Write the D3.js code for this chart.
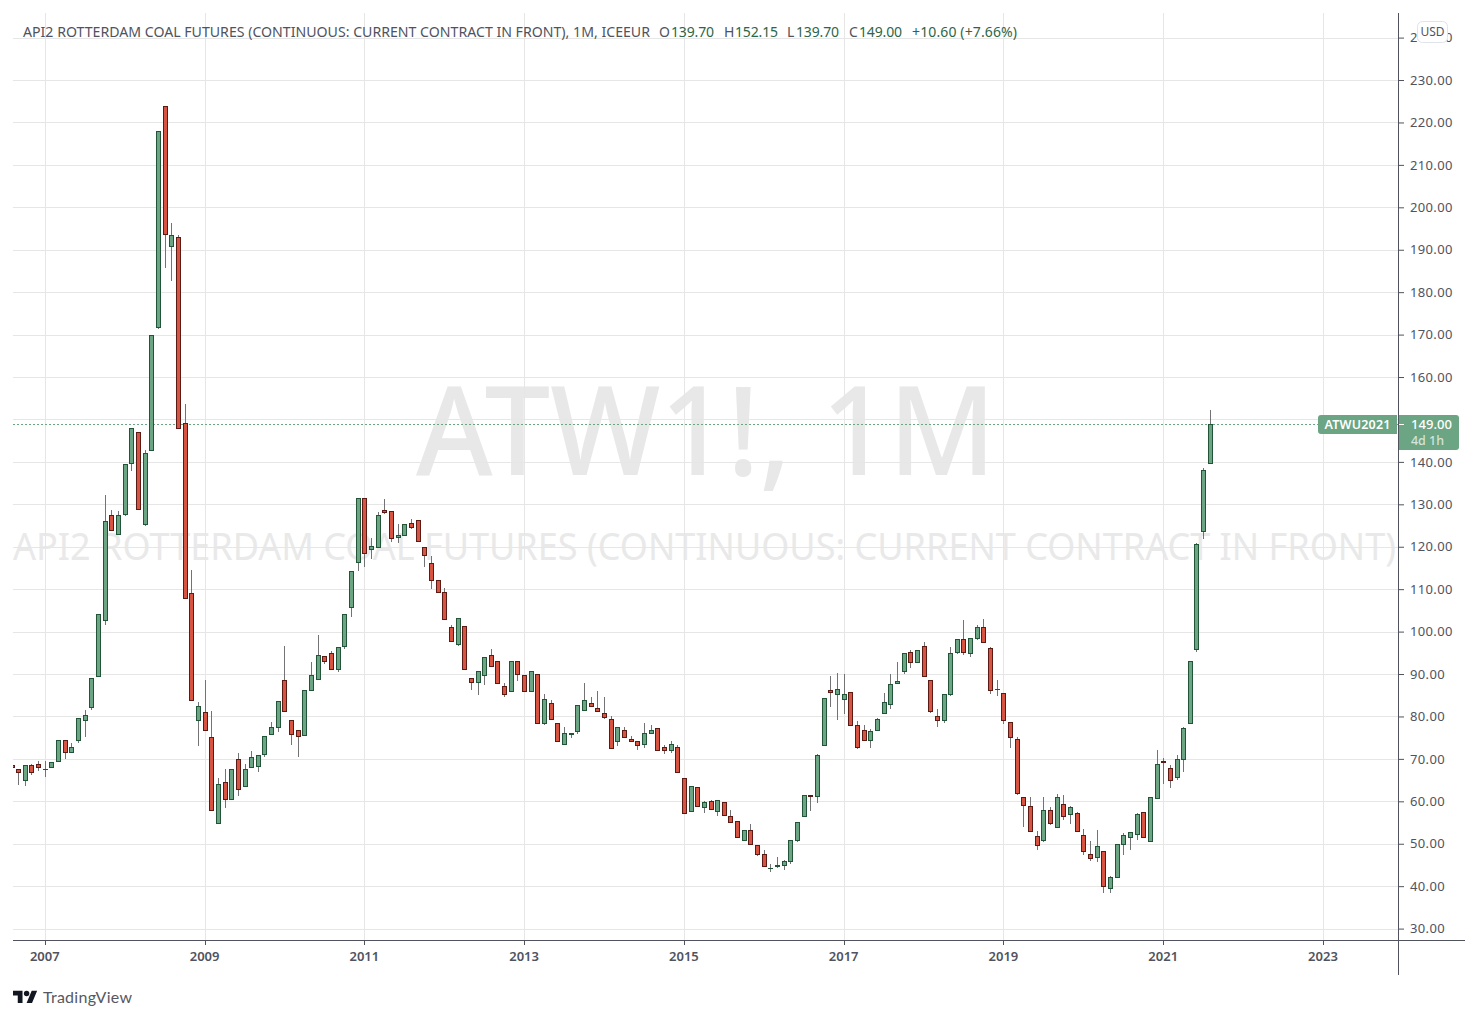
<!DOCTYPE html>
<html>
	<head>
		<title>API2 Rotterdam coal futures</title>
		<style>
* {
	margin: 0;
	padding: 0;
}
html,
body {
	background-color: #fff;
	width: 100%;
	height: 100%;
	overflow: hidden;
}
svg {
	display: block;
}
text {
	font-family: "Noto Sans", sans-serif;
}
		</style>
	</head>
	<body>
		<div id="chart"></div>
		<script src="https://cdn.jsdelivr.net/npm/d3@7"></script>
		<script>

// monthly candles, Aug 2006 to Aug 2021, one line per calendar year
var opens = [
	68.5, 67.6, 65.0, 68.6, 68.8,
	67.6, 68.0, 69.5, 74.5, 71.6, 74.4, 79.1, 82.2, 89.5, 102.7, 127.5, 122.9,
	127.6, 139.8, 147.0, 125.4, 142.9, 171.7, 223.8, 190.8, 192.9, 149.1, 109.1, 79.2,
	81.1, 75.2, 54.9, 64.6, 60.6, 70.0, 63.6, 68.1, 68.4, 71.2, 75.9, 77.5,
	88.6, 79.2, 76.8, 75.7, 86.3, 88.9, 94.3, 95.0, 91.2, 96.6, 105.8, 116.4,
	131.5, 119.5, 120.0, 128.6, 128.4, 122.3, 122.8, 125.6, 126.3, 120.0, 116.2, 112.2,
	109.4, 101.1, 97.1, 101.3, 89.1, 88.2, 89.8, 94.6, 93.0, 87.1, 85.9, 93.0,
	89.7, 86.1, 89.9, 78.4, 83.1, 78.4, 73.6, 75.9, 76.5, 81.6, 83.1, 82.1,
	80.7, 79.5, 74.3, 76.9, 74.8, 74.3, 73.4, 76.2, 77.2, 72.7, 72.0, 72.9,
	65.4, 57.6, 63.3, 58.6, 60.0, 57.6, 59.8, 56.5, 55.3, 51.0, 53.2, 49.6,
	47.7, 44.2, 44.7, 44.9, 45.9, 50.8, 56.5, 61.6, 61.2, 73.2, 86.2, 85.2,
	84.0, 85.7, 78.1, 76.7, 74.4, 76.7, 80.7, 82.9, 87.8, 90.6, 95.1, 92.8,
	96.5, 88.5, 80.0, 79.1, 85.2, 95.1, 98.2, 94.9, 98.6, 101.0, 96.1, 86.4,
	85.5, 78.6, 74.8, 60.9, 58.8, 51.8, 50.8, 57.9, 53.9, 59.3, 56.9, 57.2,
	52.0, 47.7, 46.8, 48.2, 39.5, 42.1, 49.9, 51.6, 52.4, 57.5, 50.7, 60.8,
	69.6, 67.9, 65.8, 70.0, 78.5, 96.0, 123.8, 139.7
];
var highs = [
	68.5, 67.6, 68.6, 68.9, 69.4,
	69.6, 69.3, 74.5, 74.5, 73.8, 79.7, 81.5, 89.1, 104.2, 132.1, 128.7, 128.4,
	139.4, 147.9, 147.0, 142.8, 169.8, 217.9, 223.8, 196.2, 193.4, 153.6, 114.6, 83.4,
	88.7, 81.2, 65.4, 67.5, 67.6, 71.4, 68.8, 71.9, 70.9, 75.4, 78.7, 83.7,
	96.7, 79.2, 76.8, 86.3, 92.9, 99.1, 94.3, 95.5, 96.4, 104.2, 114.3, 131.5,
	131.5, 122.1, 128.2, 131.3, 128.4, 125.4, 125.4, 126.6, 126.3, 120.0, 117.9, 112.2,
	110.3, 101.6, 103.2, 101.3, 89.1, 90.6, 94.1, 95.8, 93.0, 88.0, 93.0, 93.0,
	89.7, 90.6, 89.9, 85.2, 83.8, 78.4, 77.6, 76.2, 82.6, 87.8, 84.5, 85.9,
	84.5, 80.0, 77.4, 77.5, 75.4, 74.3, 78.4, 78.1, 77.2, 73.2, 74.1, 73.2,
	65.4, 63.5, 63.3, 60.0, 60.2, 60.2, 59.8, 57.9, 55.3, 53.2, 54.7, 49.6,
	48.5, 45.2, 46.9, 46.1, 51.0, 55.1, 61.6, 61.6, 71.2, 84.3, 89.5, 90.2,
	90.0, 85.7, 78.9, 78.0, 77.0, 79.6, 85.5, 90.0, 92.8, 94.9, 95.7, 95.6,
	97.5, 88.5, 81.8, 85.2, 96.4, 98.2, 102.7, 98.6, 101.6, 103.0, 96.3, 88.6,
	85.5, 78.6, 75.2, 60.9, 61.0, 53.0, 61.0, 58.7, 61.7, 61.5, 58.9, 57.5,
	53.5, 50.7, 53.2, 48.2, 42.3, 50.0, 52.5, 52.8, 57.3, 57.5, 61.1, 72.0,
	70.3, 68.6, 71.0, 77.5, 93.1, 121.0, 138.6, 152.15
];
var lows = [
	68.2, 63.8, 63.6, 66.2, 67.1,
	65.7, 68.0, 69.5, 69.9, 71.6, 73.7, 75.1, 81.5, 89.5, 101.5, 123.9, 122.9,
	127.3, 137.8, 129.0, 124.9, 142.9, 171.4, 185.8, 182.7, 147.9, 107.9, 83.9, 73.0,
	76.8, 58.0, 54.6, 58.4, 60.4, 61.2, 63.6, 68.1, 66.9, 70.4, 75.6, 76.3,
	81.3, 73.2, 70.4, 75.7, 86.3, 88.9, 92.3, 91.2, 90.4, 95.8, 103.4, 114.2,
	115.2, 117.2, 119.8, 127.7, 121.1, 120.8, 122.8, 124.2, 121.4, 115.3, 110.0, 109.4,
	103.0, 97.8, 96.6, 91.2, 86.3, 85.1, 87.5, 91.8, 87.8, 84.6, 85.9, 88.4,
	85.9, 86.1, 78.4, 78.0, 79.5, 74.1, 73.3, 75.0, 75.9, 81.6, 82.4, 81.4,
	79.5, 72.5, 73.1, 75.1, 74.3, 72.1, 72.5, 76.2, 71.9, 71.2, 71.3, 66.8,
	57.2, 57.6, 58.8, 57.3, 58.1, 56.6, 56.7, 55.1, 51.5, 51.0, 49.9, 47.0,
	44.7, 43.4, 44.4, 43.8, 45.3, 50.3, 56.2, 57.6, 59.5, 73.2, 82.3, 79.2,
	80.6, 77.9, 72.3, 74.4, 72.6, 76.7, 80.7, 81.8, 87.8, 89.9, 91.5, 92.8,
	89.5, 80.9, 77.6, 78.5, 84.9, 94.8, 94.4, 93.9, 98.1, 97.5, 85.4, 84.9,
	78.3, 72.6, 61.6, 54.0, 52.7, 48.6, 50.3, 54.5, 53.6, 55.7, 54.7, 52.7,
	47.4, 46.0, 45.8, 38.4, 38.4, 42.1, 47.4, 48.5, 50.9, 51.6, 50.7, 60.8,
	64.1, 63.2, 65.1, 66.9, 78.2, 95.2, 121.8, 139.7
];
var closes = [
	68.2, 66.9, 68.6, 66.9, 68.0,
	67.7, 69.3, 74.5, 71.6, 72.8, 79.7, 80.4, 89.1, 104.2, 126.1, 123.9, 127.5,
	139.4, 147.9, 129.0, 142.0, 169.8, 217.9, 193.6, 193.4, 147.9, 107.9, 83.9, 82.5,
	76.8, 58.0, 64.1, 60.6, 67.6, 62.9, 67.6, 70.5, 70.9, 75.4, 77.5, 83.7,
	81.3, 75.9, 75.4, 86.3, 89.8, 94.5, 93.1, 91.2, 96.4, 104.2, 114.3, 131.5,
	118.5, 120.2, 127.5, 128.3, 122.1, 122.8, 125.4, 124.7, 121.4, 118.1, 112.2, 109.4,
	103.0, 97.8, 103.2, 91.2, 88.2, 90.6, 94.1, 91.8, 87.8, 85.4, 93.0, 89.9,
	85.9, 90.6, 78.4, 84.0, 79.5, 74.1, 76.2, 76.2, 82.6, 83.8, 82.4, 81.4,
	79.8, 72.5, 77.4, 75.1, 74.3, 73.2, 76.2, 76.7, 72.2, 72.0, 73.6, 66.8,
	57.2, 63.5, 58.8, 59.8, 58.1, 60.2, 56.7, 55.1, 51.5, 53.2, 49.9, 47.5,
	44.7, 44.3, 44.9, 45.9, 51.0, 55.1, 61.6, 61.2, 70.8, 84.3, 85.7, 86.4,
	85.2, 77.9, 72.7, 74.4, 76.5, 79.3, 83.3, 87.6, 88.3, 94.9, 92.8, 95.6,
	89.5, 81.4, 79.1, 85.2, 94.9, 98.2, 95.1, 98.6, 101.0, 97.5, 86.2, 86.5,
	79.1, 75.1, 61.9, 59.1, 52.9, 49.6, 57.9, 54.8, 60.9, 56.5, 58.6, 52.9,
	48.2, 46.6, 49.4, 40.0, 42.1, 49.9, 52.0, 52.8, 57.1, 51.6, 61.1, 68.9,
	69.3, 65.1, 70.0, 77.3, 93.1, 120.7, 138.1, 149.0
];

var firstMonth = new Date( 2006, 7, 1 );
var yearTicks = [ 2007, 2009, 2011, 2013, 2015, 2017, 2019, 2021, 2023 ];
var priceTicks = [ 30, 40, 50, 60, 70, 80, 90, 100, 110, 120, 130, 140, 150, 160, 170, 180, 190, 200, 210, 220, 230, 240 ];

var symbolName = 'API2 ROTTERDAM COAL FUTURES (CONTINUOUS: CURRENT CONTRACT IN FRONT)';
var legendTitle = symbolName + ', 1M, ICEEUR';
var legendLetters = [ 'O', 'H', 'L', 'C' ];
var legendValues = [ '139.70', '152.15', '139.70', '149.00' ];
var legendChange = '+10.60 (+7.66%)';

var width = 1478;
var height = 1019;
var paneLeft = 13;
var paneTop = 13;
var paneRight = 1398;
var paneBottom = 940;

var green = '#6ba583';
var greenDark = '#225437';
var red = '#d75442';
var redDark = '#5b1a13';
var wickColor = '#737375';
var gridColor = '#e6e6e6';
var axisColor = '#50535e';
var labelColor = '#50535e';

var candles = opens.map( function ( d, i ) {
	return { i: i, open: d, high: highs[i], low: lows[i], close: closes[i] };
} );

// months sit evenly spaced, so the scale runs on the candle index
function monthIndex( year ) {
	return ( year - firstMonth.getFullYear() ) * 12 - firstMonth.getMonth();
}

var x = d3.scaleLinear()
	.domain( [ monthIndex( 2007 ), monthIndex( 2021 ) + 7 ] )
	.range( [ 45.3, 1210.3 ] );
var y = d3.scaleLinear()
	.domain( [ 30, 240 ] )
	.range( [ 928.6, 37.6 ] );

var svg = d3.select( '#chart' ).append( 'svg' )
	.attr( 'width', width )
	.attr( 'height', height );

svg.append( 'defs' ).append( 'clipPath' )
	.attr( 'id', 'pane' )
	.append( 'rect' )
	.attr( 'x', paneLeft )
	.attr( 'y', paneTop )
	.attr( 'width', paneRight - paneLeft )
	.attr( 'height', paneBottom - paneTop );

var pane = svg.append( 'g' ).attr( 'clip-path', 'url(#pane)' );

// watermark
pane.append( 'text' )
	.attr( 'x', 706 )
	.attr( 'y', 475 )
	.attr( 'text-anchor', 'middle' )
	.attr( 'textLength', 580 )
	.attr( 'lengthAdjust', 'spacingAndGlyphs' )
	.style( 'font-size', '123px' )
	.style( 'font-weight', 500 )
	.style( 'fill', '#e8e8e9' )
	.text( 'ATW1!, 1M' );
pane.append( 'text' )
	.attr( 'x', 13 )
	.attr( 'y', 560 )
	.attr( 'textLength', 1383 )
	.attr( 'lengthAdjust', 'spacingAndGlyphs' )
	.style( 'font-size', '38px' )
	.style( 'fill', '#e9e9ea' )
	.text( symbolName );

// grid
pane.selectAll( '.hgrid' )
	.data( priceTicks )
	.enter()
	.append( 'line' )
	.attr( 'x1', paneLeft )
	.attr( 'x2', paneRight )
	.attr( 'y1', function ( d ) { return Math.round( y( d ) ) + 0.5; } )
	.attr( 'y2', function ( d ) { return Math.round( y( d ) ) + 0.5; } )
	.style( 'stroke', gridColor );
pane.selectAll( '.vgrid' )
	.data( yearTicks )
	.enter()
	.append( 'line' )
	.attr( 'x1', function ( d ) { return Math.floor( x( monthIndex( d ) ) ) + 0.5; } )
	.attr( 'x2', function ( d ) { return Math.floor( x( monthIndex( d ) ) ) + 0.5; } )
	.attr( 'y1', paneTop )
	.attr( 'y2', paneBottom )
	.style( 'stroke', gridColor );

// last price line
var lastClose = closes[closes.length - 1];
pane.append( 'line' )
	.attr( 'x1', paneLeft )
	.attr( 'x2', paneRight )
	.attr( 'y1', Math.round( y( lastClose ) ) + 0.5 )
	.attr( 'y2', Math.round( y( lastClose ) ) + 0.5 )
	.style( 'stroke', green )
	.style( 'stroke-dasharray', '2 2' );

// candles
var candle = pane.selectAll( '.candle' )
	.data( candles )
	.enter()
	.append( 'g' );

function isUp( d ) {
	return d.close >= d.open;
}
function bodyTop( d ) {
	return Math.round( y( Math.max( d.open, d.close ) ) );
}
function bodyBottom( d ) {
	return Math.round( y( Math.min( d.open, d.close ) ) );
}
function centre( d ) {
	return Math.floor( x( d.i ) );
}

candle.append( 'rect' )
	.attr( 'x', centre )
	.attr( 'width', 1 )
	.attr( 'y', function ( d ) { return Math.round( y( d.high ) ); } )
	.attr( 'height', function ( d ) { return Math.round( y( d.low ) ) - Math.round( y( d.high ) ); } )
	.style( 'fill', wickColor );
candle.append( 'rect' )
	.attr( 'x', function ( d ) { return centre( d ) - 2; } )
	.attr( 'width', 5 )
	.attr( 'y', bodyTop )
	.attr( 'height', function ( d ) { return bodyBottom( d ) - bodyTop( d ) + 1; } )
	.style( 'fill', function ( d ) { return isUp( d ) ? greenDark : redDark; } );
candle.append( 'rect' )
	.attr( 'x', function ( d ) { return centre( d ) - 1; } )
	.attr( 'width', 3 )
	.attr( 'y', function ( d ) { return bodyTop( d ) + 1; } )
	.attr( 'height', function ( d ) { return Math.max( 0, bodyBottom( d ) - bodyTop( d ) - 1 ); } )
	.style( 'fill', function ( d ) { return isUp( d ) ? green : red; } );

// axes
var timeAxis = d3.axisBottom( x )
	.tickValues( yearTicks.map( monthIndex ) )
	.tickSize( 5 )
	.tickPadding( 7 )
	.tickFormat( function ( d, i ) { return yearTicks[i]; } );
var priceAxis = d3.axisRight( y )
	.tickValues( priceTicks )
	.tickSize( 6 )
	.tickPadding( 6 )
	.tickFormat( d3.format( '.2f' ) );

var timeG = svg.append( 'g' )
	.attr( 'transform', 'translate(0,' + paneBottom + ')' )
	.call( timeAxis );
timeG.select( '.domain' ).remove();
timeG.selectAll( 'line' )
	.style( 'stroke', axisColor )
	.attr( 'transform', function ( d ) {
		return 'translate(' + ( Math.floor( x( d ) ) - x( d ) ) + ',0)';
	} );
timeG.selectAll( 'text' )
	.attr( 'dx', -1 )
	.style( 'font-size', '13px' )
	.style( 'font-weight', 600 )
	.style( 'font-family', '"Noto Sans", sans-serif' )
	.style( 'fill', labelColor );

var priceG = svg.append( 'g' )
	.attr( 'transform', 'translate(' + paneRight + ',0)' )
	.call( priceAxis );
priceG.select( '.domain' ).remove();
priceG.selectAll( 'line' ).style( 'stroke', axisColor );
priceG.selectAll( 'text' )
	.style( 'font-size', '13px' )
	.style( 'font-family', '"Noto Sans", sans-serif' )
	.style( 'letter-spacing', '0.35px' )
	.style( 'fill', labelColor );

svg.append( 'line' )
	.attr( 'x1', paneLeft ).attr( 'x2', 1465 )
	.attr( 'y1', paneBottom + 0.5 ).attr( 'y2', paneBottom + 0.5 )
	.style( 'stroke', axisColor );
svg.append( 'line' )
	.attr( 'x1', paneRight + 0.5 ).attr( 'x2', paneRight + 0.5 )
	.attr( 'y1', paneTop ).attr( 'y2', 975 )
	.style( 'stroke', axisColor );

// price labels on the axis
var boxTop = Math.round( y( lastClose ) ) - 9;
svg.append( 'path' )
	.attr( 'd', 'M1397,' + boxTop + 'H1321a3,3 0 0 0 -3,3V' + ( boxTop + 16 ) + 'a3,3 0 0 0 3,3H1397Z' )
	.style( 'fill', green );
svg.append( 'text' )
	.attr( 'x', 1357.5 )
	.attr( 'y', boxTop + 14 )
	.attr( 'text-anchor', 'middle' )
	.attr( 'textLength', 66 )
	.style( 'font-size', '12.5px' )
	.style( 'font-weight', 600 )
	.style( 'fill', '#fff' )
	.text( 'ATWU2021' );
svg.append( 'path' )
	.attr( 'd', 'M1399,' + boxTop + 'H1456a3,3 0 0 1 3,3V' + ( boxTop + 32 ) + 'a3,3 0 0 1 -3,3H1399Z' )
	.style( 'fill', green );
svg.append( 'line' )
	.attr( 'x1', 1399 ).attr( 'x2', 1404 )
	.attr( 'y1', boxTop + 9.5 ).attr( 'y2', boxTop + 9.5 )
	.style( 'stroke', '#fff' );
svg.append( 'text' )
	.attr( 'x', 1431.5 )
	.attr( 'y', boxTop + 14 )
	.attr( 'text-anchor', 'middle' )
	.attr( 'textLength', 41 )
	.style( 'font-size', '13px' )
	.style( 'font-weight', 500 )
	.style( 'fill', '#fff' )
	.text( d3.format( '.2f' )( lastClose ) );
svg.append( 'text' )
	.attr( 'x', 1427.5 )
	.attr( 'y', boxTop + 30 )
	.attr( 'text-anchor', 'middle' )
	.style( 'font-size', '12.5px' )
	.style( 'font-weight', 500 )
	.style( 'fill', 'rgba(255,255,255,0.72)' )
	.text( '4d 1h' );

// currency badge
svg.append( 'rect' )
	.attr( 'x', 1417.5 ).attr( 'y', 21.5 )
	.attr( 'width', 30 ).attr( 'height', 21 )
	.attr( 'rx', 5 )
	.style( 'fill', '#fff' )
	.style( 'stroke', '#e0e3eb' );
svg.append( 'text' )
	.attr( 'x', 1432.5 ).attr( 'y', 35.5 )
	.attr( 'text-anchor', 'middle' )
	.style( 'font-size', '12px' )
	.style( 'fill', labelColor )
	.text( 'USD' );

// legend row
var legendBaseline = 37;
var valueColor = '#2d6647';
svg.append( 'text' )
	.attr( 'x', 23 ).attr( 'y', legendBaseline )
	.attr( 'textLength', 627 )
	.attr( 'lengthAdjust', 'spacingAndGlyphs' )
	.style( 'font-size', '14px' )
	.style( 'fill', labelColor )
	.text( legendTitle );

var letterX = [ 659, 724, 787, 849 ];
var valueX = [ 671, 735, 796, 859 ];
legendLetters.forEach( function ( d, i ) {
	svg.append( 'text' )
		.attr( 'x', letterX[i] ).attr( 'y', legendBaseline )
		.style( 'font-size', '14px' )
		.style( 'fill', labelColor )
		.text( d );
	svg.append( 'text' )
		.attr( 'x', valueX[i] ).attr( 'y', legendBaseline )
		.attr( 'textLength', 43 )
		.style( 'font-size', '14px' )
		.style( 'fill', valueColor )
		.text( legendValues[i] );
} );
svg.append( 'text' )
	.attr( 'x', 912 ).attr( 'y', legendBaseline )
	.attr( 'textLength', 105 )
	.style( 'font-size', '14px' )
	.style( 'fill', valueColor )
	.text( legendChange );

// logo
svg.append( 'path' )
	.attr( 'transform', 'translate(13,986) scale(0.68)' )
	.attr( 'd', 'M14 25H7V14H0V7h14v18zM28 25h-8l7.5-18h8L28 25z' )
	.style( 'fill', '#131722' );
svg.append( 'circle' )
	.attr( 'cx', 13 + 20 * 0.68 )
	.attr( 'cy', 986 + 11 * 0.68 )
	.attr( 'r', 4 * 0.68 )
	.style( 'fill', '#131722' );
svg.append( 'text' )
	.attr( 'x', 43 ).attr( 'y', 1003 )
	.attr( 'textLength', 89 )
	.style( 'font-family', 'Lato, sans-serif' )
	.style( 'font-size', '16px' )
	.style( 'fill', '#555862' )
	.text( 'TradingView' );

		</script>
	</body>
</html>
